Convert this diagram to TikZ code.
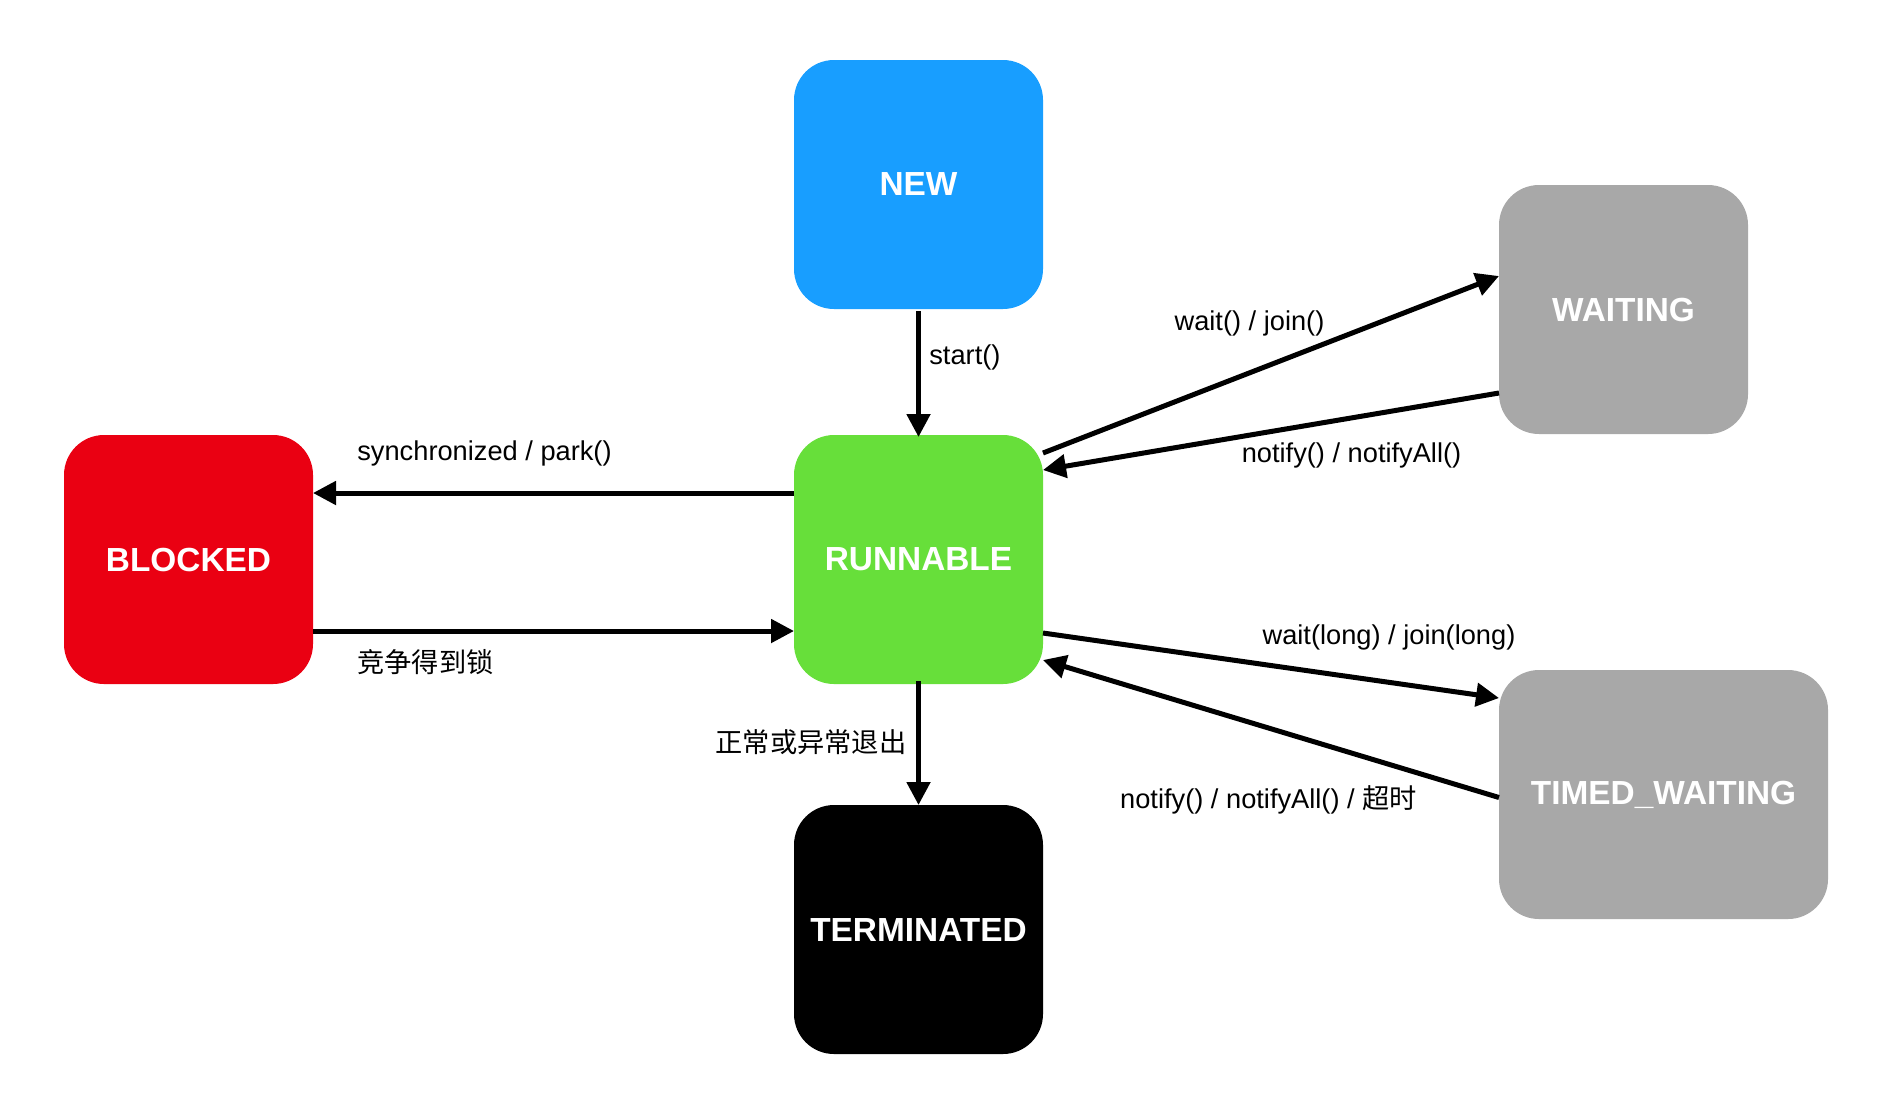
\documentclass[tikz,border=0pt]{standalone}
\usepackage{fontspec}
\setmainfont{Liberation Sans}
\newfontfamily\cjk{Noto Sans CJK SC}
\usepackage{xcolor}
\usepackage{tikz}
\usetikzlibrary{calc}
\usetikzlibrary{arrows.meta}
\usetikzlibrary{positioning}
\definecolor{newblue}{RGB}{24,158,255}
\definecolor{rungreen}{RGB}{103,223,58}
\definecolor{blkred}{RGB}{234,0,18}
\definecolor{waitgray}{RGB}{168,168,168}
\tikzset{>=latex}
\tikzstyle{state} = [rectangle, rounded corners=0.8cm, draw=none, inner sep=0pt, outer sep=0pt, minimum width=4.98cm, minimum height=4.98cm, text=white, font=\fontsize{19}{22}\selectfont\bfseries]
\tikzstyle{trans} = [-{Triangle[length=0.46cm, width=0.46cm]}, line width=0.1cm]
\tikzstyle{lbl} = [draw=none, inner sep=0pt, font=\fontsize{15.5}{18}\selectfont]

\begin{document}
\begin{tikzpicture}
\useasboundingbox (0,0) rectangle (37.56,-22.36);
\node [state, fill=newblue] (NEW) at (18.37, -3.69) {NEW};
\node [state, fill=rungreen] (RUN) at (18.37, -11.19) {RUNNABLE};
\node [state, fill=blkred] (BLK) at (3.77, -11.19) {BLOCKED};
\node [state, fill=black] (TERM) at (18.37, -18.59) {TERMINATED};
\node [state, fill=waitgray] (WAIT) at (32.47, -6.19) {WAITING};
\node [state, fill=waitgray, minimum width=6.58cm] (TWAIT) at (33.27, -15.89) {TIMED\_WAITING};
\draw [trans] ([yshift=-0.04cm]NEW.south) to ([yshift=-0.04cm]RUN.north);
\draw [trans] ([yshift=-1.16cm]RUN.north west) to ([yshift=-1.16cm]BLK.north east);
\draw [trans] ([yshift=1.06cm]BLK.south east) to ([yshift=1.06cm]RUN.south west);
\draw [trans] ([yshift=0.06cm]RUN.south) to (TERM.north);
\draw [trans] ([yshift=-0.36cm]RUN.north east) to ([yshift=-1.82cm]WAIT.north west);
\draw [trans] ([yshift=0.82cm]WAIT.south west) to ([yshift=-0.70cm]RUN.north east);
\draw [trans] ([yshift=1.02cm]RUN.south east) to ([yshift=-0.56cm]TWAIT.north west);
\draw [trans] ([yshift=-0.06cm]TWAIT.west) to ([yshift=0.48cm]RUN.south east);
\node [lbl, anchor=west] (Lstart) at (18.58, -7.14) {start()};
\node [lbl, anchor=west] (Lsync) at (7.14, -9.06) {synchronized / park()};
\node [lbl, anchor=west] (Llock) at (7.14, -13.24) {\cjk 竞争得到锁};
\node [lbl] (Lexit) at (16.22, -14.84) {\cjk 正常或异常退出};
\node [lbl] (Lwait) at (24.99, -6.46) {wait() / join()};
\node [lbl] (Lnotify) at (27.03, -9.10) {notify() / notifyAll()};
\node [lbl] (Ltwait) at (27.78, -12.74) {wait(long) / join(long)};
\node [lbl] (Ltnotify) at (25.37, -16.00) {notify() / notifyAll() / {\cjk 超时}};
\end{tikzpicture}
\end{document}
